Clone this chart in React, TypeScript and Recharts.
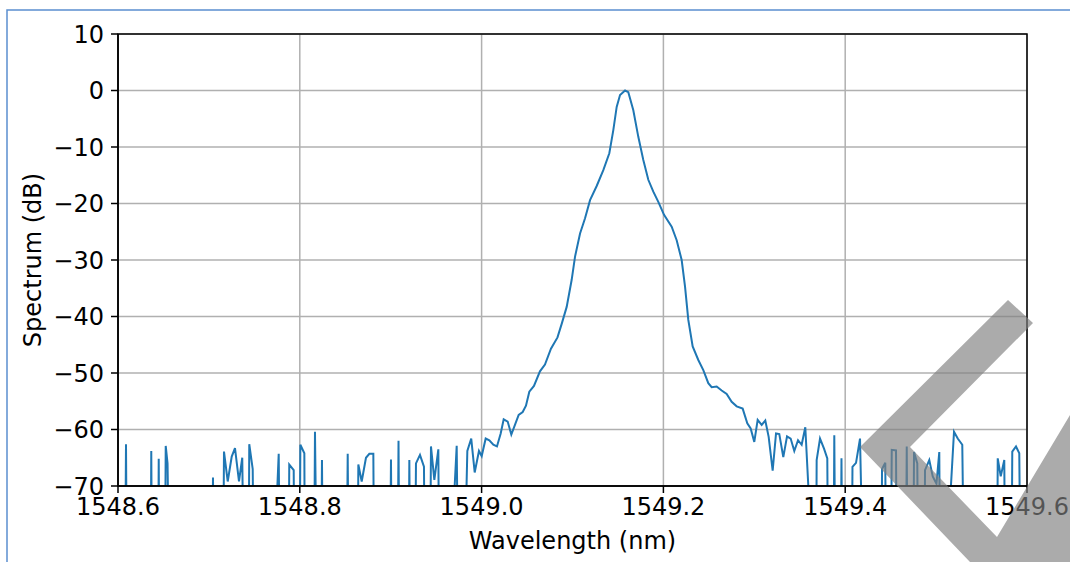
import { LineChart, Line, XAxis, YAxis, CartesianGrid } from "recharts";

// sample positions (nm) and measured level (dB); -90 / -76 = below the noise floor
const wavelengthNm = [
  1548.6, 1548.6077, 1548.6088, 1548.6099, 1548.6358, 1548.6366, 1548.6376,
  1548.644, 1548.6448, 1548.6457, 1548.6515, 1548.6525, 1548.6545, 1548.6567,
  1548.7034, 1548.7045, 1548.7056, 1548.7155, 1548.7166, 1548.7207, 1548.7251,
  1548.7287, 1548.7331, 1548.7367, 1548.7386, 1548.7436, 1548.7444, 1548.7482,
  1548.7496, 1548.7738, 1548.7768, 1548.7782, 1548.7876, 1548.7884, 1548.7933,
  1548.7942, 1548.7997, 1548.8006, 1548.805, 1548.8057, 1548.8156, 1548.8167,
  1548.8189, 1548.8233, 1548.8244, 1548.8255, 1548.8514, 1548.8527, 1548.8539,
  1548.8635, 1548.8644, 1548.8681, 1548.8728, 1548.8765, 1548.8809, 1548.8819,
  1548.8992, 1548.9003, 1548.9014, 1548.9075, 1548.9086, 1548.9097, 1548.9196,
  1548.9205, 1548.9216, 1548.9267, 1548.9278, 1548.9322, 1548.9366, 1548.9377,
  1548.9432, 1548.9443, 1548.948, 1548.9524, 1548.9535, 1548.9685, 1548.9726,
  1548.9744, 1548.9806, 1548.9843, 1548.9886, 1548.9924, 1548.9971, 1549.0001,
  1549.0045, 1549.0085, 1549.0129, 1549.0169, 1549.021, 1549.0243, 1549.0287,
  1549.0327, 1549.0371, 1549.0408, 1549.0452, 1549.0488, 1549.0525, 1549.0576,
  1549.0642, 1549.0697, 1549.0763, 1549.0835, 1549.0881, 1549.0936, 1549.0991,
  1549.1028, 1549.1083, 1549.1138, 1549.1193, 1549.1266, 1549.1339, 1549.1405,
  1549.1449, 1549.1486, 1549.1523, 1549.1578, 1549.1614, 1549.1669, 1549.1724,
  1549.1779, 1549.1834, 1549.1889, 1549.1944, 1549.2007, 1549.2091, 1549.2146,
  1549.2201, 1549.2238, 1549.2274, 1549.2322, 1549.2384, 1549.2439, 1549.2494,
  1549.2531, 1549.2586, 1549.2641, 1549.2696, 1549.2751, 1549.2806, 1549.2872,
  1549.2923, 1549.296, 1549.3, 1549.3037, 1549.3081, 1549.3121, 1549.3158,
  1549.3202, 1549.3239, 1549.3275, 1549.3319, 1549.336, 1549.34, 1549.344,
  1549.3481, 1549.3521, 1549.3561, 1549.3607, 1549.3679, 1549.3686, 1549.3723,
  1549.3767, 1549.3803, 1549.3814, 1549.3871, 1549.388, 1549.3893, 1549.395,
  1549.3959, 1549.397, 1549.4071, 1549.408, 1549.4119, 1549.4163, 1549.4201,
  1549.4399, 1549.4405, 1549.4441, 1549.4451, 1549.4502, 1549.4512, 1549.4559,
  1549.4568, 1549.4667, 1549.4677, 1549.4688, 1549.4748, 1549.4757, 1549.4793,
  1549.4806, 1549.4872, 1549.4878, 1549.4925, 1549.4963, 1549.5004, 1549.5035,
  1549.5046, 1549.5142, 1549.5197, 1549.5238, 1549.5288, 1549.531, 1549.567,
  1549.5678, 1549.5711, 1549.575, 1549.5761, 1549.5829, 1549.5838, 1549.5879,
  1549.5915, 1549.5931, 1549.6,
];

const spectrumDb = [
  -90, -90, -62.6, -90, -90, -63.8, -90,
  -90, -65.2, -90, -90, -62.9, -66, -90,
  -90, -68.5, -90, -90, -63.9, -69.2, -64.8,
  -63.3, -69.2, -65.0, -90, -90, -62.6, -67,
  -90, -76, -64.3, -90, -90, -66.2, -67.2,
  -90, -90, -62.7, -64.2, -90, -90, -60.4,
  -90, -90, -65.4, -90, -90, -64.3, -90,
  -90, -66.2, -69.2, -65.0, -64.3, -64.3, -90,
  -90, -65.3, -90, -90, -62.0, -90, -90,
  -65.4, -90, -90, -66.0, -64.5, -66.6, -90,
  -90, -63.0, -68.9, -63.5, -90, -76, -62.9,
  -90, -90, -63.8, -61.6, -67.6, -63.8, -64.7,
  -61.6, -61.9, -62.7, -63.0, -60.7, -58.2, -58.6,
  -60.9, -59.0, -57.4, -56.9, -55.8, -53.3, -52.3,
  -49.7, -48.5, -45.7, -43.7, -41.3, -38.3, -33.5,
  -29.4, -25.3, -22.6, -19.4, -16.9, -14.1, -11.1,
  -7.0, -2.9, -0.8, 0, -0.3, -3.5, -8.2,
  -12.3, -15.8, -17.9, -19.7, -22.0, -24.1, -26.5,
  -30.0, -34.7, -40.6, -45.3, -47.7, -49.5, -51.8,
  -52.5, -52.4, -53.1, -53.7, -55.1, -55.9, -56.3,
  -58.9, -59.8, -62.2, -58.3, -59.2, -58.4, -61.3,
  -67.3, -60.7, -60.8, -64.9, -61.2, -61.6, -63.8,
  -61.9, -62.7, -59.6, -74, -90, -65.4, -61.6,
  -63.4, -65.1, -90, -90, -61.0, -90, -90,
  -65.1, -90, -90, -66.6, -65.9, -61.6, -90,
  -90, -67.0, -65.9, -90, -90, -63.6, -63.7,
  -90, -90, -63.0, -90, -90, -64.0, -66.0,
  -90, -90, -67.2, -65.4, -68.3, -69.6, -64.0,
  -90, -76, -60.4, -61.6, -62.7, -90, -90,
  -65.1, -68.3, -65.4, -90, -90, -63.9, -63.0,
  -64.2, -90, -90,
];

const xTicks = [1548.6, 1548.8, 1549.0, 1549.2, 1549.4, 1549.6];
const yTicks = [-70, -60, -50, -40, -30, -20, -10, 0, 10];

const rows = wavelengthNm.map((wl, i) => ({ wl, db: spectrumDb[i] }));

const font = "'DejaVu Sans', sans-serif";
const tickStyle = { fontFamily: font, fontSize: 24, fill: "#000" };

const fmtY = (v: number) => (v < 0 ? "\u2212" + Math.abs(v) : String(v));

export default function App() {
  return (
    <div
      style={{
        position: "fixed",
        left: 0,
        top: 0,
        width: 1070,
        height: 562,
        overflow: "hidden",
        background: "#fff",
      }}
    >
      <LineChart
        width={1070}
        height={562}
        data={rows}
        margin={{ top: 34, right: 43, bottom: 0, left: 0 }}
      >
        <CartesianGrid stroke="#b0b0b0" strokeWidth={1.5} />
        <XAxis
          dataKey="wl"
          type="number"
          domain={[1548.6, 1549.6]}
          ticks={xTicks}
          tickFormatter={(v: number) => v.toFixed(1)}
          height={76}
          tick={tickStyle}
          tickSize={7}
          tickMargin={5}
          stroke="#000"
          strokeWidth={1.5}
          tickLine={{ stroke: "#000", strokeWidth: 1.5 }}
          interval={0}
          label={{
            value: "Wavelength (nm)",
            position: "insideBottom",
            offset: 13,
            style: { fontFamily: font, fontSize: 24, fill: "#000" },
          }}
        />
        <YAxis
          type="number"
          domain={[-70, 10]}
          ticks={yTicks}
          allowDataOverflow
          width={118}
          tick={tickStyle}
          tickFormatter={fmtY}
          tickSize={7}
          tickMargin={7}
          stroke="#000"
          strokeWidth={1.5}
          tickLine={{ stroke: "#000", strokeWidth: 1.5 }}
          interval={0}
          label={{
            value: "Spectrum (dB)",
            content: ({ viewBox }: any) => {
              const cx = viewBox.x + 41;
              const cy = viewBox.y + viewBox.height / 2;
              return (
                <text
                  x={cx}
                  y={cy}
                  transform={`rotate(-90 ${cx} ${cy})`}
                  textAnchor="middle"
                  style={{ fontFamily: font, fontSize: 24, fill: "#000" }}
                >
                  Spectrum (dB)
                </text>
              );
            },
          }}
        />
        <Line
          type="linear"
          dataKey="db"
          stroke="#1f77b4"
          strokeWidth={2}
          dot={false}
          isAnimationActive={false}
        />
      </LineChart>
      <svg
        width={1070}
        height={562}
        style={{ position: "absolute", left: 0, top: 0, pointerEvents: "none" }}
      >
        <rect x={7} y={10} width={1100} height={600} fill="none" stroke="#5b8fd0" strokeWidth={1.5} />
        <rect x={118} y={34} width={909} height={452} fill="none" stroke="#000" strokeWidth={1.5} />
        <polygon
          points="1008,300 1033,323 910,447 997,537 1070,415 1070,562 970,562 860,447"
          fill="#808080"
          fillOpacity={0.66}
        />
      </svg>
    </div>
  );
}
